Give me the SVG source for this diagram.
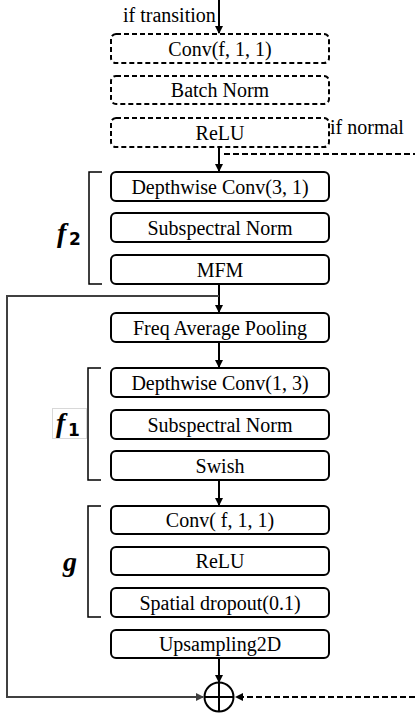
<svg xmlns="http://www.w3.org/2000/svg" width="415" height="715" viewBox="0 0 415 715">
<defs>
<marker id="ah" markerWidth="8" markerHeight="8" refX="7" refY="4" orient="auto" markerUnits="userSpaceOnUse"><path d="M0,0 L8,4 L0,8 z" fill="#000"/></marker>
<marker id="ahg" markerWidth="8" markerHeight="8" refX="7" refY="4" orient="auto" markerUnits="userSpaceOnUse"><path d="M0,0 L8,4 L0,8 z" fill="#404040"/></marker>
</defs>
<style>
.box{fill:#fff;stroke:#000;stroke-width:2}
.dbox{fill:#fff;stroke:#000;stroke-width:2;stroke-dasharray:5,3}
.t{font-family:"Liberation Serif","Times New Roman",serif;font-size:20px;fill:#000;text-anchor:middle}
.lbl{font-family:"Liberation Serif","Times New Roman",serif;font-size:20px;fill:#000}
.c{stroke:#000;stroke-width:2;fill:none}
.br{stroke:#000;stroke-width:1.5;fill:none}
.math{font-family:"Liberation Serif","Times New Roman",serif;font-weight:bold;font-style:italic;font-size:28px;fill:#000}
.sub{font-family:"DejaVu Sans",sans-serif;font-weight:bold;font-size:17px;fill:#000}
</style>
<rect width="415" height="715" fill="#fff"/>
<g id="connectors">
<line class="c" x1="219" y1="0" x2="219" y2="33" marker-end="url(#ah)"/>
<line class="c" x1="219" y1="147" x2="219" y2="171" marker-end="url(#ah)"/>
<line class="c" x1="224" y1="154" x2="415" y2="154" stroke-dasharray="6,3"/>
<line class="c" x1="219" y1="284" x2="219" y2="312" marker-end="url(#ah)"/>
<polyline fill="none" stroke="#404040" stroke-width="2" points="219,296 7,296 7,697 203,697" marker-end="url(#ahg)"/>
<line class="c" x1="219" y1="342" x2="219" y2="367" marker-end="url(#ah)"/>
<line class="c" x1="219" y1="480" x2="219" y2="505" marker-end="url(#ah)"/>
<line class="c" x1="219" y1="658" x2="219" y2="682" marker-end="url(#ah)"/>
<line class="c" x1="415" y1="697" x2="236" y2="697" stroke-dasharray="6,3" marker-end="url(#ah)"/>
</g>
<g id="labels">
<text class="lbl" x="123" y="22">if transition</text>
<text class="lbl" x="330" y="134">if normal</text>
</g>
<g id="conv-t"><rect class="dbox" x="111" y="34" width="218" height="29" rx="5"/><text class="t" x="220" y="56">Conv(f, 1, 1)</text></g>
<g id="bn"><rect class="dbox" x="111" y="76" width="218" height="28" rx="5"/><text class="t" x="220" y="97">Batch Norm</text></g>
<g id="relu-t"><rect class="dbox" x="111" y="118" width="218" height="29" rx="5"/><text class="t" x="220" y="140">ReLU</text></g>
<g id="dw31"><rect class="box" x="111" y="172" width="218" height="29" rx="5"/><text class="t" x="220" y="194">Depthwise Conv(3, 1)</text></g>
<g id="ssn1"><rect class="box" x="111" y="213" width="218" height="29" rx="5"/><text class="t" x="220" y="235">Subspectral Norm</text></g>
<g id="mfm"><rect class="box" x="111" y="255" width="218" height="29" rx="5"/><text class="t" x="220" y="277">MFM</text></g>
<g id="fap"><rect class="box" x="111" y="313" width="218" height="29" rx="5"/><text class="t" x="220" y="335">Freq Average Pooling</text></g>
<g id="dw13"><rect class="box" x="111" y="368" width="218" height="29" rx="5"/><text class="t" x="220" y="390">Depthwise Conv(1, 3)</text></g>
<g id="ssn2"><rect class="box" x="111" y="410" width="218" height="29" rx="5"/><text class="t" x="220" y="432">Subspectral Norm</text></g>
<g id="swish"><rect class="box" x="111" y="451" width="218" height="29" rx="5"/><text class="t" x="220" y="473">Swish</text></g>
<g id="conv"><rect class="box" x="111" y="506" width="218" height="28" rx="5"/><text class="t" x="220" y="527">Conv( f, 1, 1)</text></g>
<g id="relu"><rect class="box" x="111" y="547" width="218" height="28" rx="5"/><text class="t" x="220" y="568">ReLU</text></g>
<g id="drop"><rect class="box" x="111" y="588" width="218" height="29" rx="5"/><text class="t" x="220" y="610">Spatial dropout(0.1)</text></g>
<g id="up"><rect class="box" x="111" y="630" width="218" height="28" rx="5"/><text class="t" x="220" y="651">Upsampling2D</text></g>
<g id="add"><circle cx="219" cy="697" r="14.5" fill="#fff" stroke="#000" stroke-width="2"/><line class="c" x1="204.5" y1="697" x2="233.5" y2="697"/><line class="c" x1="219" y1="682.5" x2="219" y2="711.5"/></g>
<g id="f2">
<polyline class="br" points="102,172 89,172 89,284 102,284"/>
<text class="math" x="57" y="242">f</text><text class="sub" x="69" y="245">2</text>
</g>
<g id="f1">
<rect x="52.5" y="408.5" width="34" height="30" fill="none" stroke="#d8d8d8" stroke-width="1"/>
<polyline class="br" points="101,368 88,368 88,480 101,480"/>
<text class="math" x="56" y="432">f</text><text class="sub" x="68" y="436">1</text>
</g>
<g id="g">
<polyline class="br" points="101,506 88,506 88,617 101,617"/>
<text class="math" x="63" y="571">g</text>
</g>
</svg>
